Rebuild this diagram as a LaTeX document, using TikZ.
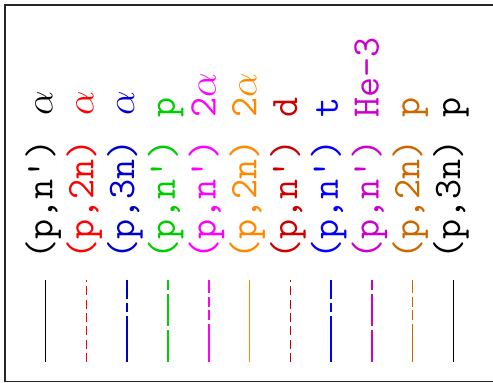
\RequirePackage{fix-cm}
\documentclass[tikz,border=0pt]{standalone}
\usepackage{tikz}
\usepackage{xcolor}
\definecolor{chanRed}{HTML}{FF0000}
\definecolor{chanBlue}{HTML}{0000CC}
\definecolor{chanGreen}{HTML}{00CC00}
\definecolor{chanMagenta}{HTML}{FF00FF}
\definecolor{chanOrange}{HTML}{FF8800}
\definecolor{chanDarkRed}{HTML}{CC0000}
\definecolor{chanBrightBlue}{HTML}{0000FF}
\definecolor{chanViolet}{HTML}{CC00CC}
\definecolor{chanBrown}{HTML}{CC6600}
\tikzset{
    frameline/.style={line width=1.4pt, draw=black!85},
    reaction/.style={rotate=90, anchor=base west, inner sep=0pt, font=\fontsize{39}{44}\selectfont\ttfamily},
    product/.style={rotate=90, anchor=base west, inner sep=0pt, font=\fontsize{39}{44}\selectfont\ttfamily},
    sample/.style={line width=1.5pt},
    solidline/.style={sample},
    dashline/.style={sample, dash pattern=on 9pt off 4.3pt},
    longdashdot/.style={sample, dash pattern=on 45.6pt off 4.4pt on 9pt off 4.4pt},
    longdash/.style={sample, dash pattern=on 31.5pt off 4.5pt},
    longdashdotdot/.style={sample, dash pattern=on 37.6pt off 4pt on 10pt off 3.5pt on 10pt off 4pt},
}

\begin{document}
\begin{tikzpicture}[x=1pt, y=1pt]
    \useasboundingbox (0,0) rectangle (493,383);
    % frame, open on the right
    \draw[frameline] (495,378) -- (5,378) -- (5,1.5) -- (495,1.5);

    % reactions
    \node[reaction, text=black]           (rx1)  at (52.5,123)  {(p,n')};
    \node[reaction, text=chanRed]         (rx2)  at (93.3,123)  {(p,2n)};
    \node[reaction, text=chanBlue]        (rx3)  at (134.0,123) {(p,3n)};
    \node[reaction, text=chanGreen]       (rx4)  at (174.8,123) {(p,n')};
    \node[reaction, text=chanMagenta]     (rx5)  at (215.6,123) {(p,n')};
    \node[reaction, text=chanOrange]      (rx6)  at (256.4,123) {(p,2n)};
    \node[reaction, text=chanDarkRed]     (rx7)  at (297.1,123) {(p,n')};
    \node[reaction, text=chanBrightBlue]  (rx8)  at (337.9,123) {(p,n')};
    \node[reaction, text=chanViolet]      (rx9)  at (378.7,123) {(p,n')};
    \node[reaction, text=chanBrown]       (rx10) at (419.4,123) {(p,2n)};
    \node[reaction, text=black]           (rx11) at (460.2,123) {(p,3n)};

    % emitted particles
    \node[product, text=black]            (pr1)  at (52.5,267)  {$\alpha$};
    \node[product, text=chanRed]          (pr2)  at (93.3,267)  {$\alpha$};
    \node[product, text=chanBlue]         (pr3)  at (134.0,267) {$\alpha$};
    \node[product, text=chanGreen]        (pr4)  at (174.8,265) {p};
    \node[product, text=chanMagenta]      (pr5)  at (215.6,265) {2$\alpha$};
    \node[product, text=chanOrange]       (pr6)  at (256.4,265) {2$\alpha$};
    \node[product, text=chanDarkRed]      (pr7)  at (297.1,265) {d};
    \node[product, text=chanBrightBlue]   (pr8)  at (337.9,265) {t};
    \node[product, text=chanViolet]       (pr9)  at (378.7,265) {He\textendash3};
    \node[product, text=chanBrown]        (pr10) at (419.4,265) {p};
    \node[product, text=black]            (pr11) at (460.2,265) {p};

    % line samples, drawn bottom to top
    \draw[solidline, black]            (45.7,21)  -- (45.7,103);
    \draw[dashline, chanRed]           (86.5,21)  -- (86.5,103);
    \draw[longdashdot, chanBlue]       (127.2,21) -- (127.2,103);
    \draw[longdash, chanGreen]         (168.0,21) -- (168.0,103);
    \draw[longdashdotdot, chanMagenta] (208.8,21) -- (208.8,103);
    \draw[solidline, chanOrange]       (249.6,21) -- (249.6,103);
    \draw[dashline, chanDarkRed]       (290.3,21) -- (290.3,103);
    \draw[longdashdot, chanBrightBlue] (331.1,21) -- (331.1,103);
    \draw[longdash, chanViolet]        (371.9,21) -- (371.9,103);
    \draw[longdashdotdot, chanBrown]   (412.6,21) -- (412.6,103);
    \draw[solidline, black]            (453.4,21) -- (453.4,103);
\end{tikzpicture}
\end{document}
